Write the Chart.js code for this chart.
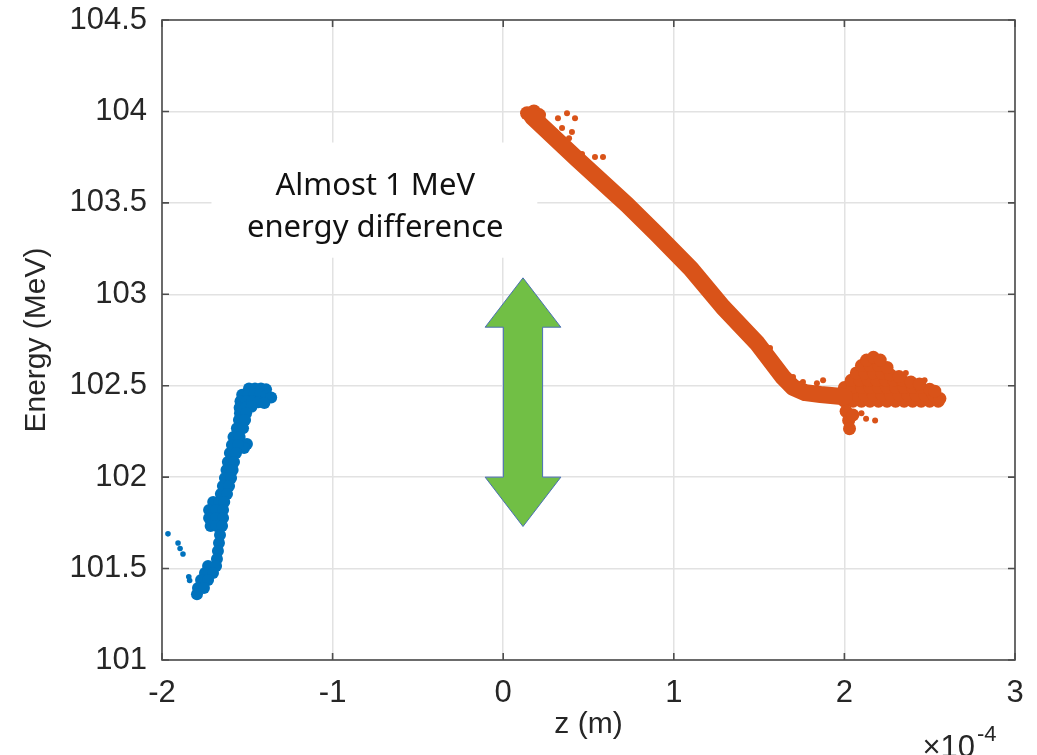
<!DOCTYPE html>
<html>
<head>
<meta charset="utf-8">
<script src="https://cdn.jsdelivr.net/npm/chart.js"></script>
<style>
  html, body { margin: 0; padding: 0; background: #fff; }
  canvas { display: block; }
</style>
</head>
<body>
<canvas id="myChart" width="1037" height="755"></canvas>
<script>
// z is in units of 1e-4 m (axis shows x10^-4), energy in MeV
const xTicks = [-2, -1, 0, 1, 2, 3]
const yTicks = [101, 101.5, 102, 102.5, 103, 103.5, 104, 104.5]

// blue bunch, main body
const blueCore = [
  [-1.49, 102.485], [-1.455, 102.485], [-1.42, 102.485], [-1.39, 102.48],
  [-1.53, 102.45], [-1.495, 102.45], [-1.46, 102.45], [-1.425, 102.45], [-1.39, 102.445], [-1.36, 102.435],
  [-1.54, 102.415], [-1.505, 102.415], [-1.47, 102.415], [-1.435, 102.41], [-1.40, 102.405],
  [-1.545, 102.38], [-1.51, 102.38], [-1.475, 102.385],
  [-1.543, 102.35], [-1.507, 102.35],
  [-1.549, 102.312], [-1.513, 102.312],
  [-1.561, 102.268], [-1.525, 102.268],
  [-1.581, 102.219], [-1.545, 102.219],
  [-1.502, 102.181], [-1.519, 102.159],
  [-1.590, 102.176], [-1.554, 102.176],
  [-1.602, 102.132], [-1.566, 102.132],
  [-1.614, 102.083], [-1.578, 102.083],
  [-1.622, 102.039], [-1.586, 102.039],
  [-1.631, 101.995], [-1.595, 101.995],
  [-1.643, 101.951], [-1.607, 101.951],
  [-1.655, 101.908], [-1.619, 101.908],
  [-1.70, 101.864], [-1.665, 101.864], [-1.635, 101.864],
  [-1.724, 101.82], [-1.683, 101.82], [-1.642, 101.82],
  [-1.724, 101.776], [-1.683, 101.776], [-1.642, 101.776],
  [-1.715, 101.733], [-1.68, 101.733], [-1.648, 101.733],
  [-1.66, 101.683], [-1.666, 101.64], [-1.672, 101.596], [-1.678, 101.552],
  [-1.73, 101.514], [-1.683, 101.514],
  [-1.748, 101.476], [-1.701, 101.476],
  [-1.771, 101.437], [-1.73, 101.437],
  [-1.789, 101.394], [-1.754, 101.394],
  [-1.795, 101.36]
]

// blue stray particles
const blueStray = [
  [-1.965, 101.69], [-1.906, 101.64], [-1.894, 101.61], [-1.877, 101.58],
  [-1.843, 101.455], [-1.838, 101.435]
]

// orange bunch, centre of the sloped band
const orangeTrack = [
  [0.17, 103.97], [0.433, 103.74], [0.726, 103.49], [0.90, 103.33], [1.10, 103.14],
  [1.288, 102.93], [1.488, 102.733], [1.64, 102.547], [1.70, 102.49], [1.77, 102.462],
  [1.86, 102.452], [2.0, 102.44]
]

// orange head and tail blob
const orangeHead = [[0.14, 103.99], [0.18, 104.0], [0.21, 103.98]]
const orangeTail = [
  [2.00, 102.415], [2.05, 102.415], [2.10, 102.415], [2.15, 102.415], [2.20, 102.415], [2.25, 102.415],
  [2.30, 102.415], [2.35, 102.415], [2.40, 102.415], [2.45, 102.415], [2.50, 102.415], [2.55, 102.415],
  [1.97, 102.45], [2.02, 102.45], [2.07, 102.45], [2.12, 102.45], [2.17, 102.45], [2.22, 102.45],
  [2.27, 102.45], [2.32, 102.45], [2.37, 102.45], [2.42, 102.45], [2.47, 102.45], [2.52, 102.45], [2.56, 102.43],
  [2.00, 102.49], [2.05, 102.49], [2.10, 102.49], [2.15, 102.49], [2.20, 102.49], [2.25, 102.49],
  [2.30, 102.49], [2.35, 102.49], [2.40, 102.49], [2.45, 102.49], [2.50, 102.48], [2.53, 102.47],
  [2.04, 102.53], [2.09, 102.53], [2.14, 102.53], [2.19, 102.53], [2.24, 102.53], [2.29, 102.53],
  [2.34, 102.53], [2.39, 102.52], [2.44, 102.51],
  [2.07, 102.57], [2.12, 102.57], [2.17, 102.57], [2.22, 102.57], [2.27, 102.56], [2.32, 102.55],
  [2.10, 102.61], [2.15, 102.61], [2.20, 102.61], [2.25, 102.6],
  [2.13, 102.64], [2.17, 102.655], [2.21, 102.64],
  [2.01, 102.36], [2.025, 102.31], [2.03, 102.265], [2.05, 102.34]
]
const orangeStray = [
  [0.321, 103.963], [0.374, 103.99], [0.421, 103.963], [0.345, 103.909], [0.403, 103.887],
  [0.386, 103.854], [0.462, 103.767], [0.538, 103.751], [0.585, 103.751],
  [1.505, 102.75], [1.564, 102.706], [1.699, 102.547], [1.757, 102.52], [1.839, 102.514], [1.875, 102.53],
  [2.10, 102.35], [2.127, 102.32], [2.18, 102.31], [2.36, 102.57], [2.47, 102.53]
]

const blue = '#0072bd'
const orange = '#d95319'
const axisColor = '#262626'

// annotation
const noteLines = ['Almost 1 MeV', 'energy difference']
const noteX = -0.75
const noteY = [103.59, 103.36]
const noteBox = [-1.71, 0.2, 103.2, 103.83]
const arrowX = 0.116
const arrowY = [101.73, 102.0, 102.82, 103.09]
const arrowHalf = [0.115, 0.222]

const toXY = arr => arr.map(p => ({ x: p[0], y: p[1] }))

const decor = {
  id: 'decor',
  beforeDatasetsDraw(chart) {
    const { ctx } = chart
    const x = chart.scales.x, y = chart.scales.y
    ctx.save()
    // white text box hides the grid
    const bx0 = x.getPixelForValue(noteBox[0]), bx1 = x.getPixelForValue(noteBox[1])
    const by0 = y.getPixelForValue(noteBox[3]), by1 = y.getPixelForValue(noteBox[2])
    ctx.fillStyle = '#fff'
    ctx.fillRect(bx0, by0, bx1 - bx0, by1 - by0)
    ctx.fillStyle = '#111'
    ctx.font = '31px "Noto Sans"'
    ctx.textAlign = 'center'
    ctx.textBaseline = 'middle'
    noteLines.forEach((t, i) => ctx.fillText(t, x.getPixelForValue(noteX), y.getPixelForValue(noteY[i])))

    // double arrow
    const cx = x.getPixelForValue(arrowX)
    const sw = x.getPixelForValue(arrowX + arrowHalf[0]) - cx
    const hw = x.getPixelForValue(arrowX + arrowHalf[1]) - cx
    const [yb, ybh, yth, yt] = arrowY.map(v => y.getPixelForValue(v))
    ctx.beginPath()
    ctx.moveTo(cx, yt)
    ctx.lineTo(cx + hw, yth)
    ctx.lineTo(cx + sw, yth)
    ctx.lineTo(cx + sw, ybh)
    ctx.lineTo(cx + hw, ybh)
    ctx.lineTo(cx, yb)
    ctx.lineTo(cx - hw, ybh)
    ctx.lineTo(cx - sw, ybh)
    ctx.lineTo(cx - sw, yth)
    ctx.lineTo(cx - hw, yth)
    ctx.closePath()
    ctx.fillStyle = '#71bf45'
    ctx.fill()
    ctx.strokeStyle = '#4a6fb5'
    ctx.lineWidth = 1
    ctx.stroke()
    ctx.restore()
  },
  afterDatasetsDraw(chart) {
    const { ctx, chartArea: a } = chart
    const x = chart.scales.x, y = chart.scales.y
    ctx.save()
    ctx.strokeStyle = '#4d4d4d'
    ctx.lineWidth = 1.6
    ctx.strokeRect(a.left, a.top, a.right - a.left, a.bottom - a.top)
    ctx.beginPath()
    const tl = 7
    xTicks.forEach(v => {
      const px = x.getPixelForValue(v)
      ctx.moveTo(px, a.bottom); ctx.lineTo(px, a.bottom - tl)
      ctx.moveTo(px, a.top); ctx.lineTo(px, a.top + tl)
    })
    yTicks.forEach(v => {
      const py = y.getPixelForValue(v)
      ctx.moveTo(a.left, py); ctx.lineTo(a.left + tl, py)
      ctx.moveTo(a.right, py); ctx.lineTo(a.right - tl, py)
    })
    ctx.stroke()

    // exponent label
    ctx.fillStyle = axisColor
    ctx.textBaseline = 'alphabetic'
    ctx.textAlign = 'right'
    ctx.font = '31px "Liberation Sans"'
    ctx.fillText('\u00d710', a.right - 40, chart.height + 2)
    ctx.textAlign = 'left'
    ctx.font = '22px "Liberation Sans"'
    ctx.fillText('-4', a.right - 38, chart.height - 14)
    ctx.restore()
  }
}

const ctx = document.getElementById('myChart').getContext('2d')

const chart = new Chart(ctx, {
  type: 'scatter',
  data: {
    datasets: [
      {
        label: 'track',
        data: toXY(orangeTrack),
        showLine: true,
        borderColor: orange,
        borderWidth: 17,
        borderJoinStyle: 'round',
        borderCapStyle: 'round',
        pointRadius: 0
      },
      { label: 'head', data: toXY(orangeHead), backgroundColor: orange, pointRadius: 7, borderWidth: 0 },
      { label: 'tail', data: toXY(orangeTail), backgroundColor: orange, pointRadius: 6.5, borderWidth: 0 },
      { label: 'orangeStray', data: toXY(orangeStray), backgroundColor: orange, pointRadius: 3, borderWidth: 0 },
      { label: 'blue', data: toXY(blueCore), backgroundColor: blue, pointRadius: 6, borderWidth: 0 },
      { label: 'blueStray', data: toXY(blueStray), backgroundColor: blue, pointRadius: 2.8, borderWidth: 0 }
    ]
  },
  options: {
    responsive: false,
    animation: false,
    events: [],
    layout: { padding: { left: 0, right: 22, top: 20, bottom: 0 } },
    plugins: { legend: { display: false }, tooltip: { enabled: false } },
    scales: {
      x: {
        type: 'linear',
        min: -2,
        max: 3,
        afterBuildTicks: s => { s.ticks = xTicks.map(v => ({ value: v })) },
        afterFit: s => { s.height = 95 },
        grid: { color: '#e2e2e2', lineWidth: 1.5, tickLength: 15, tickColor: 'rgba(0,0,0,0)' },
        border: { display: false },
        ticks: {
          padding: 0,
          color: axisColor,
          font: { family: '"Liberation Sans", Arial', size: 31 },
          callback: v => String(v)
        },
        title: {
          display: true,
          text: 'z (m)',
          color: axisColor,
          font: { family: '"Liberation Sans", Arial', size: 30 },
          padding: { top: 0, bottom: 12 }
        }
      },
      y: {
        type: 'linear',
        min: 101,
        max: 104.5,
        afterBuildTicks: s => { s.ticks = yTicks.map(v => ({ value: v })) },
        afterFit: s => { s.width = 162 },
        grid: { color: '#e2e2e2', lineWidth: 1.5, tickLength: 15, tickColor: 'rgba(0,0,0,0)' },
        border: { display: false },
        ticks: {
          padding: 0,
          color: axisColor,
          font: { family: '"Liberation Sans", Arial', size: 31 },
          callback: v => String(v)
        },
        title: {
          display: true,
          text: 'Energy (MeV)',
          color: axisColor,
          font: { family: '"Liberation Sans", Arial', size: 30 },
          padding: { top: 19, bottom: 0 }
        }
      }
    }
  },
  plugins: [decor]
})
</script>
</body>
</html>
